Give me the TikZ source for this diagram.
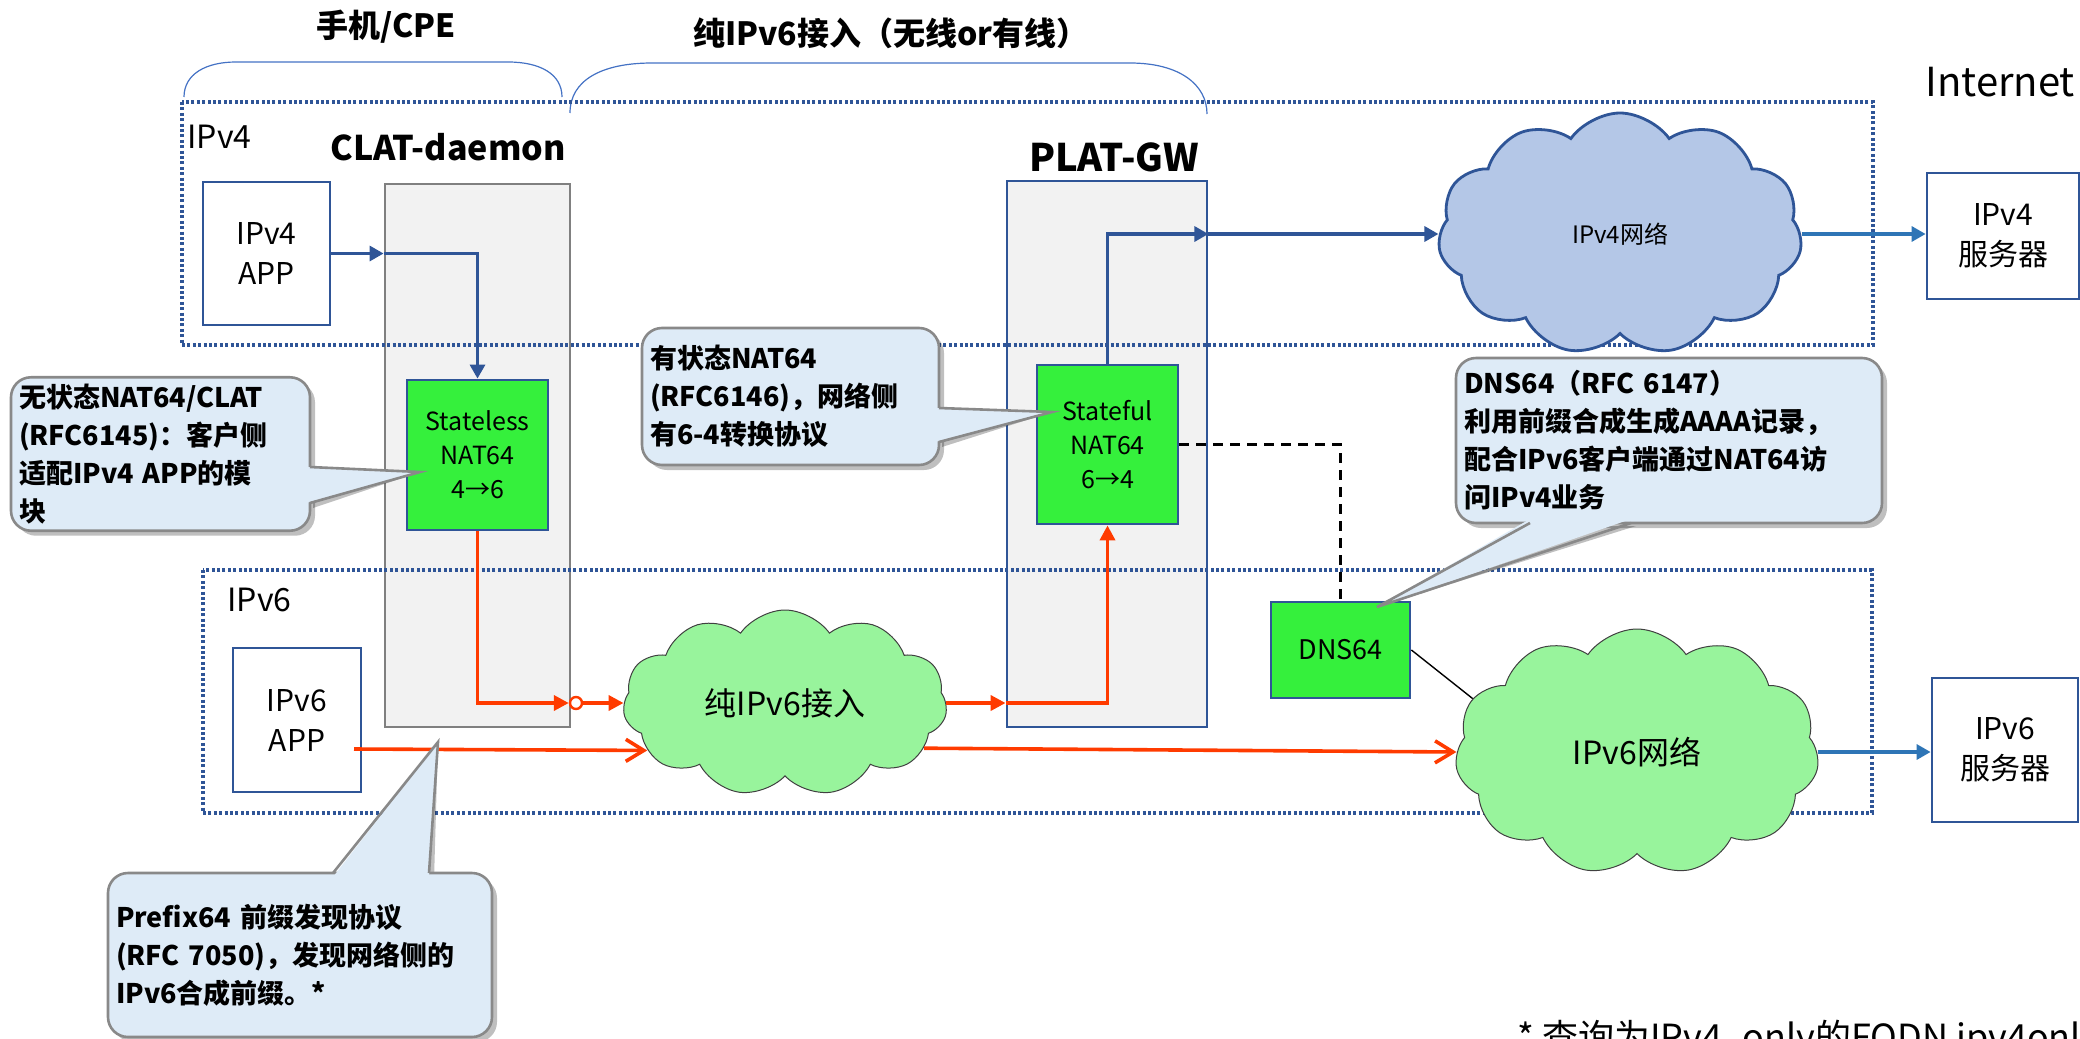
\documentclass[tikz,border=0pt]{standalone}
\usepackage{fontspec}
\setmainfont{Noto Sans CJK SC}
\usepackage{tikz}
\definecolor{darkblue}{RGB}{47,85,151}
\definecolor{midblue}{RGB}{46,117,182}
\definecolor{braceblue}{RGB}{68,114,196}
\definecolor{redline}{RGB}{255,59,0}
\definecolor{natgreen}{RGB}{53,240,60}
\definecolor{cloudgreen}{RGB}{152,244,156}
\definecolor{cloudblue}{RGB}{180,199,231}
\definecolor{boxgray}{RGB}{242,242,242}
\definecolor{callfill}{RGB}{222,235,247}
\definecolor{callborder}{RGB}{137,137,137}
\usetikzlibrary{shapes.symbols,arrows.meta,shadows}

\begin{document}
\begin{tikzpicture}[x=0.5pt, y=-0.5pt,
    headtext/.style={font=\bfseries\fontsize{16}{18}\selectfont},
    zonelabel/.style={inner sep=0, font=\fontsize{16}{18}\selectfont},
    brace/.style={draw=braceblue, line width=0.6pt},
    zone/.style={draw=darkblue, line width=2pt, dash pattern=on 1.5pt off 1.2pt},
    gwbox/.style={fill=boxgray, line width=1.4pt},
    appbox/.style={draw=darkblue, line width=1.4pt, fill=white, align=center, font=\fontsize{15}{20}\selectfont},
    natbox/.style={draw=darkblue, line width=1.4pt, fill=natgreen, align=center, font=\fontsize{12.5}{17}\selectfont},
    cloudv4/.style={cloud, cloud puffs=11, cloud puff arc=110, cloud ignores aspect, draw=darkblue, line width=1.4pt, fill=cloudblue, inner sep=0},
    cloudv6/.style={cloud, cloud puffs=11, cloud puff arc=110, cloud ignores aspect, draw=black!75, line width=0.5pt, fill=cloudgreen, inner sep=0},
    bluearrow/.style={draw=darkblue, line width=1.6pt, -{Triangle[length=7pt,width=7.5pt]}},
    outarrow/.style={draw=midblue, line width=1.6pt, -{Triangle[length=7pt,width=7.5pt]}},
    redarrow/.style={draw=redline, line width=1.8pt, -{Triangle[length=7.5pt,width=7.5pt]}},
    redopen/.style={draw=redline, line width=1.8pt, -{Straight Barb[length=9pt,width=11pt]}},
    joint/.style={circle, draw=redline, line width=1.2pt, fill=white, inner sep=0, minimum size=6pt},
    dashline/.style={draw=black, line width=1.1pt, dash pattern=on 5pt off 3.5pt},
    thinline/.style={draw=black, line width=0.7pt},
    notebox/.style={draw=callborder, line width=1.3pt, fill=callfill, rounded corners=10pt,
        drop shadow={shadow xshift=2.5pt, shadow yshift=-2.5pt, opacity=0.25, fill=black},
        align=left, inner xsep=4pt, font=\bfseries\fontsize{13.5}{19}\selectfont},
    wedge/.style={fill=callfill},
    wedgeline/.style={draw=callborder, line width=1.3pt},
    wedgeshadow/.style={fill=black, opacity=0.25, xshift=2.5pt, yshift=-2.5pt}]
    \useasboundingbox (0,0) rectangle (2080,1038);
    \clip (0,0) rectangle (2080,1038);

    % Braces and titles
    \draw[brace] (184,97) .. controls (184,74) and (206,62) .. (236,62) -- (508,62) .. controls (540,62) and (562,74) .. (562,97);
    \draw[brace] (570,113) .. controls (570,80) and (602,63) .. (652,63) -- (1130,63) .. controls (1180,63) and (1207,85) .. (1207,114);
    \node[headtext] (tcpe) at (386,27) {手机/CPE};
    \node[headtext] (tacc) at (891,33) {纯IPv6接入（无线or有线）};
    \node[zonelabel, anchor=west, font=\fontsize{20}{22}\selectfont] (tinet) at (1925,82) {Internet};

    % Gateways
    \node[gwbox, draw=black!50, minimum width=92.5pt, minimum height=271.5pt] (clat) at (477.5,455.5) {};
    \node[gwbox, draw=darkblue, minimum width=100pt, minimum height=273pt] (plat) at (1107,454) {};
    \node[headtext, font=\bfseries\fontsize{17}{19}\selectfont] (tclat) at (448,147) {CLAT-daemon};
    \node[headtext, font=\bfseries\fontsize{19}{21}\selectfont] (tplat) at (1114,157) {PLAT-GW};

    % Zones
    \draw[zone] (182,102) rectangle (1873,345);
    \draw[zone] (203,570) rectangle (1872,813);
    \node[zonelabel, anchor=west] (lv4) at (187,137) {IPv4};
    \node[zonelabel, anchor=west] (lv6) at (227,600) {IPv6};

    % Apps and servers
    \node[appbox, minimum width=63.5pt, minimum height=71.5pt] (app4) at (266.5,253.5) {IPv4\\APP};
    \node[appbox, minimum width=64pt, minimum height=72pt] (app6) at (297,720) {IPv6\\APP};
    \node[appbox, minimum width=76pt, minimum height=63pt] (srv4) at (2003,236) {IPv4\\服务器};
    \node[appbox, minimum width=73pt, minimum height=72pt] (srv6) at (2005,750) {IPv6\\服务器};

    % NAT64 boxes
    \node[natbox, minimum width=70.5pt, minimum height=75pt] (stateless) at (477.5,455) {Stateless\\NAT64\\4→6};
    \node[natbox, minimum width=70.5pt, minimum height=79.5pt] (stateful) at (1107.5,444.5) {Stateful\\NAT64\\6→4};
    \node[natbox, font=\fontsize{13.5}{16}\selectfont, minimum width=69.5pt, minimum height=48pt] (dns) at (1340.5,650) {DNS64};

    % Clouds
    \node[cloudv4, minimum width=182pt, minimum height=121pt, font=\fontsize{12}{14}\selectfont] (net4) at (1620,234) {IPv4网络};
    \node[cloudv6, minimum width=182pt, minimum height=123pt, font=\fontsize{16}{18}\selectfont] (net6) at (1637,752) {IPv6网络};
    \node[cloudv6, minimum width=162pt, minimum height=93pt, font=\fontsize{16}{18}\selectfont] (acc) at (785,703) {纯IPv6接入};

    % IPv4 path
    \draw[bluearrow] (app4.east) -- (app4.east -| clat.west);
    \draw[bluearrow] (app4.east -| clat.west) -| (stateless.north);
    \draw[bluearrow] (stateful.north) |- (plat.east |- net4.west);
    \draw[bluearrow] (plat.east |- net4.west) -- (net4.west);
    \draw[outarrow] (net4.east) -- (net4.east -| srv4.west);

    % IPv6 path
    \coordinate (src6) at (354,749);
    \node[joint] (joint) at (576,703) {};
    \draw[redarrow] (stateless.south) |- (joint.west);
    \draw[redarrow] (joint.east) -- (acc.west);
    \draw[redarrow] (acc.east) -- (acc.east -| plat.west);
    \draw[redarrow] (acc.east -| plat.west) -| (stateful.south);
    \draw[redopen] (src6) -- (acc.199);
    \draw[redopen] (acc.-18) -- (net6.west);
    \draw[outarrow] (net6.east) -- (net6.east -| srv6.west);

    % DNS64
    \draw[dashline] (stateful.east) -| (dns.north);
    \draw[thinline] (dns.east) -- (net6.162);

    % Callouts
    \coordinate (tip1) at (420,472);
    \coordinate (tip2) at (1052,412);
    \coordinate (tip3) at (1377,607);
    \coordinate (tip4) at (438,742);

    \fill[wedgeshadow] (308,467) -- (tip1) -- (308,503) -- cycle;
    \node[notebox, text width=141.5pt, minimum height=76pt] (c1) at (160.5,454) {无状态NAT64/CLAT\\(RFC6145)：客户侧\\适配IPv4 APP的模\\块};
    \fill[wedge] (306,467) -- (tip1) -- (306,503) -- cycle;
    \draw[wedgeline] (310,467) -- (tip1) -- (310,503);

    \fill[wedgeshadow] (937,408) -- (tip2) -- (937,442) -- cycle;
    \node[notebox, text width=140.5pt, minimum height=68.5pt] (c2) at (790.5,396.5) {有状态NAT64\\(RFC6146)，网络侧\\有6-4转换协议};
    \fill[wedge] (935,408) -- (tip2) -- (935,442) -- cycle;
    \draw[wedgeline] (939,408) -- (tip2) -- (939,442);

    \fill[wedgeshadow] (1530,521) -- (tip3) -- (1631,521) -- cycle;
    \node[notebox, text width=205pt, minimum height=82.5pt] (c3) at (1669,440.5) {DNS64（RFC 6147）\\利用前缀合成生成AAAA记录，\\配合IPv6客户端通过NAT64访\\问IPv4业务};
    \fill[wedge] (1530,519) -- (tip3) -- (1631,519) -- cycle;
    \draw[wedgeline] (1530,523) -- (tip3) -- (1631,523);

    \fill[wedgeshadow] (333,875) -- (tip4) -- (429,875) -- cycle;
    \node[notebox, text width=184pt, minimum height=82pt] (c4) at (300,955) {Prefix64 前缀发现协议\\(RFC 7050)，发现网络侧的\\IPv6合成前缀。*};
    \fill[wedge] (333,877) -- (tip4) -- (429,877) -- cycle;
    \draw[wedgeline] (333,873) -- (tip4) -- (429,873);

    % Footnote (cut by the lower edge, as in the original slide)
    \node[anchor=north west, inner sep=0, font=\fontsize{18}{20}\selectfont] (note) at (1517,1020) {* 查询为IPv4\_only的FQDN ipv4only};
\end{tikzpicture}
\end{document}
